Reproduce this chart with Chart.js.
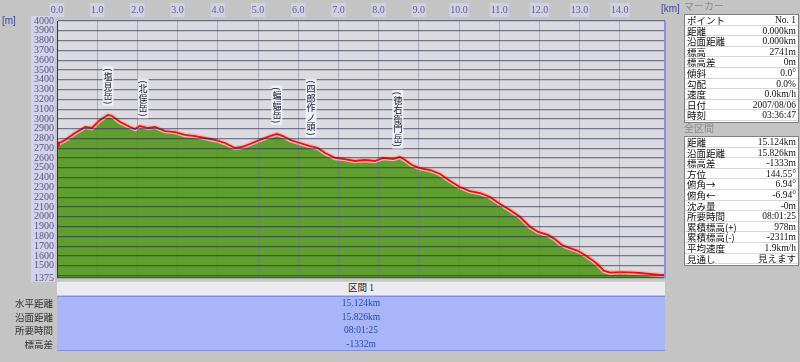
<!DOCTYPE html>
<html>
<head>
<meta charset="utf-8">
<script src="https://cdn.jsdelivr.net/npm/chart.js"></script>
<style>
  body { margin: 0; background: #c4c4c4; width: 800px; height: 362px; overflow: hidden; position: relative;
         font-family: "Liberation Serif", "Noto Sans CJK JP", serif; }
  .abs { position: absolute; }
  #ycol { left: 31px; top: 16px; width: 24px; height: 266px; background: #d2d2ea; }
  #chart { position: absolute; left: 0; top: 0; }
  .unit { color: #3c4aa0; font-size: 10px; font-family: "Liberation Sans", sans-serif; }
  .hdr { color: #8a8a8a; font-size: 10px; font-family: "Noto Sans CJK JP", sans-serif; line-height: 12px; }
  .box { background: #fff; border: 1px solid #808080; box-sizing: border-box; }
  .row { display: flex; justify-content: space-between; height: 10.6px; line-height: 10.6px; font-size: 9.5px;
         border-bottom: 1px solid #d8d8d8; box-sizing: border-box; padding: 0 2px 0 2px; color: #111; }
  .row span:first-child { font-family: "Noto Sans CJK JP", sans-serif; font-size: 9.5px; }
  #band1 { left: 57px; top: 281px; width: 608px; height: 14px; background: #ebebef; border-top: 1px solid #f0c0d0;
           box-sizing: border-box; text-align: center; font-size: 9.5px; line-height: 13px; color: #202020; }
  #band2 { left: 57px; top: 296px; width: 608px; height: 55px; background: #a8b6f8; border-top: 1px solid #8090e0;
           border-bottom: 1px solid #8090d8; box-sizing: border-box; }
  .val { position: absolute; left: 0; width: 608px; text-align: center; font-size: 9.5px; color: #2848b0; line-height: 12px; }
  .lab { position: absolute; left: 0; width: 53px; text-align: right; font-size: 9.5px; color: #303030; line-height: 12px;
         font-family: "Noto Sans CJK JP", sans-serif; }
</style>
</head>
<body>
<div id="ycol" class="abs"></div>
<canvas id="chart" width="800" height="362"></canvas>
<div class="abs unit" style="left:2px;top:15px;">[m]</div>
<div class="abs unit" style="left:661px;top:3px;">[km]</div>

<div id="band1" class="abs">区間 1</div>
<div id="band2" class="abs">
  <div class="val" style="top:0px;">15.124km</div>
  <div class="val" style="top:13.5px;">15.826km</div>
  <div class="val" style="top:27px;">08:01:25</div>
  <div class="val" style="top:40.5px;">-1332m</div>
</div>
<div class="lab" style="top:297px;">水平距離</div>
<div class="lab" style="top:310.5px;">沿面距離</div>
<div class="lab" style="top:324px;">所要時間</div>
<div class="lab" style="top:337.5px;">標高差</div>

<div class="abs hdr" style="left:684px;top:0px;">マーカー</div>
<div class="abs box" id="markerBox" style="left:684px;top:14px;width:115px;height:109px;"></div>
<div class="abs hdr" style="left:684px;top:122px;">全区間</div>
<div class="abs box" id="totalBox" style="left:684px;top:136px;width:115px;height:130px;"></div>

<script>
// 距離 [km] と標高 [m]
var distKm = [0, 0.2, 0.45, 0.7, 0.87, 1.07, 1.27, 1.37, 1.57, 1.82, 1.94, 2.06, 2.26, 2.44, 2.69, 2.94,
  3.18, 3.43, 3.68, 3.93, 4.18, 4.43, 4.6, 4.8, 5.05, 5.3, 5.47, 5.62, 5.8, 6.04, 6.29, 6.49, 6.67, 6.92,
  7.16, 7.41, 7.66, 7.91, 8.11, 8.36, 8.53, 8.66, 8.83, 9.03, 9.28, 9.53, 9.78, 10.02, 10.27, 10.52, 10.77,
  11.02, 11.27, 11.52, 11.77, 11.97, 12.21, 12.39, 12.56, 12.76, 12.94, 13.13, 13.31, 13.46, 13.6, 13.76,
  14.0, 14.25, 14.5, 14.75, 15.05, 15.124];
var elevM = [2741, 2784, 2856, 2917, 2907, 2989, 3040, 3030, 2968, 2917, 2897, 2927, 2907, 2917, 2876, 2866,
  2836, 2825, 2805, 2785, 2754, 2703, 2713, 2744, 2785, 2825, 2846, 2825, 2785, 2754, 2723, 2703, 2652, 2601,
  2590, 2570, 2580, 2570, 2601, 2590, 2611, 2580, 2529, 2498, 2478, 2437, 2366, 2304, 2263, 2243, 2202,
  2131, 2069, 1998, 1896, 1845, 1815, 1770, 1712, 1680, 1655, 1610, 1560, 1510, 1450, 1430,
  1436, 1432, 1426, 1416, 1405, 1408];

// 目盛り
var xTicks = [0, 1, 2, 3, 4, 5, 6, 7, 8, 9, 10, 11, 12, 13, 14];
var yTicks = [1375, 1400, 1500, 1600, 1700, 1800, 1900, 2000, 2100, 2200, 2300, 2400, 2500, 2600, 2700,
  2800, 2900, 3000, 3100, 3200, 3300, 3400, 3500, 3600, 3700, 3800, 3900, 4000];
var yHidden = [1400];

// 山名ラベル
var peakNames = ['︵塩見岳︶', '︵北俣岳︶', '︵蝙蝠岳︶', '︵四郎作ノ頭︶', '︵徳右衛門岳︶'];
var peakKm = [1.27, 2.14, 5.47, 6.32, 8.48];
var peakElev = [3040, 2915, 2846, 2720, 2605];

// 右パネル
var markerRows = [['ポイント', 'No. 1'], ['距離', '0.000km'], ['沿面距離', '0.000km'], ['標高', '2741m'],
  ['標高差', '0m'], ['傾斜', '0.0°'], ['勾配', '0.0%'], ['速度', '0.0km/h'], ['日付', '2007/08/06'], ['時刻', '03:36:47']];
var totalRows = [['距離', '15.124km'], ['沿面距離', '15.826km'], ['標高差', '-1333m'], ['方位', '144.55°'],
  ['俯角→', '6.94°'], ['俯角←', '-6.94°'], ['沈み量', '-0m'], ['所要時間', '08:01:25'], ['累積標高(+)', '978m'],
  ['累積標高(-)', '-2311m'], ['平均速度', '1.9km/h'], ['見通し', '見えます']];

function fillRows(id, rows) {
  var box = document.getElementById(id);
  rows.forEach(function (r) {
    var d = document.createElement('div');
    d.className = 'row';
    d.innerHTML = '<span>' + r[0] + '</span><span>' + r[1] + '</span>';
    box.appendChild(d);
  });
}
fillRows('markerBox', markerRows);
fillRows('totalBox', totalRows);

var pts = distKm.map(function (d, i) { return { x: d, y: elevM[i] }; });

var plotDeco = {
  id: 'plotDeco',
  beforeDraw: function (chart) {
    var a = chart.chartArea, c = chart.ctx;
    c.save();
    c.fillStyle = '#dadadf';
    c.fillRect(a.left, a.top, a.right - a.left, a.bottom - a.top);
    c.restore();
  },
  afterDraw: function (chart) {
    var a = chart.chartArea, c = chart.ctx;
    var xs = chart.scales.x, ys = chart.scales.y;
    c.save();
    c.strokeStyle = '#8c8ce8';
    c.lineWidth = 2;
    c.beginPath();
    c.moveTo(a.right, a.top); c.lineTo(a.right, a.bottom);
    c.stroke();
    // 縦書きの山名
    c.font = '9px "Noto Sans CJK JP"';
    c.textAlign = 'center';
    c.textBaseline = 'middle';
    peakNames.forEach(function (name, i) {
      var chars = Array.from(name);
      var steps = chars.map(function (ch) { return (ch === '︵' || ch === '︶') ? 4.5 : 9.5; });
      var h = steps.reduce(function (s, v) { return s + v; }, 0);
      var cx = xs.getPixelForValue(peakKm[i]);
      var bottom = ys.getPixelForValue(peakElev[i]) - 10;
      var top = bottom - h;
      c.fillStyle = 'rgba(240,240,248,0.92)';
      c.fillRect(cx - 5.5, top - 1, 11, h + 2);
      c.fillStyle = '#202030';
      var y = top;
      chars.forEach(function (ch, j) {
        var yy = y + steps[j] / 2;
        if (ch === '︵' || ch === '︶') {
          c.save();
          c.translate(cx, yy);
          c.rotate(Math.PI / 2);
          c.fillText(ch === '︵' ? '(' : ')', 0, 0);
          c.restore();
        } else {
          c.fillText(ch, cx, yy);
        }
        y += steps[j];
      });
    });
    c.restore();
  }
};

var ctx = document.getElementById('chart').getContext('2d');
new Chart(ctx, {
  type: 'line',
  data: {
    datasets: [
      {
        data: pts,
        borderColor: '#e41414',
        borderWidth: 1.8,
        pointRadius: function (c) { return c.dataIndex === 0 ? 3 : 0; },
        pointBackgroundColor: '#e41414',
        pointBorderWidth: 0,
        fill: false,
        tension: 0,
        order: 1
      },
      {
        data: pts,
        borderColor: '#f4b4b0',
        borderWidth: 4.5,
        pointRadius: 0,
        fill: 'start',
        backgroundColor: '#609e30',
        tension: 0,
        order: 2
      }
    ]
  },
  options: {
    responsive: false,
    animation: false,
    layout: { padding: { left: 0, top: 0, right: 135, bottom: 84 } },
    plugins: { legend: { display: false }, tooltip: { enabled: false } },
    scales: {
      x: {
        type: 'linear',
        position: 'top',
        min: 0,
        max: 15.124,
        afterBuildTicks: function (s) { s.ticks = xTicks.map(function (v) { return { value: v }; }); },
        afterFit: function (s) { s.height = 21; },
        ticks: {
          callback: function (v) { return Number(v).toFixed(1); },
          font: { family: 'Liberation Serif', size: 10 },
          color: '#62628a',
          padding: 5,
          maxRotation: 0,
          showLabelBackdrop: true,
          backdropColor: '#d0d0e2',
          backdropPadding: 1
        },
        grid: { color: 'rgba(110,110,150,0.45)', lineWidth: 1, drawTicks: false, z: 1 },
        border: { display: false }
      },
      y: {
        type: 'linear',
        min: 1375,
        max: 4000,
        afterBuildTicks: function (s) { s.ticks = yTicks.map(function (v) { return { value: v }; }); },
        afterFit: function (s) { s.width = 57; },
        ticks: {
          callback: function (v) { return yHidden.indexOf(v) >= 0 ? '' : String(v); },
          font: { family: 'Liberation Serif', size: 10 },
          color: '#56567e',
          padding: 3,
          autoSkip: false
        },
        grid: { color: 'rgba(35,35,75,0.55)', lineWidth: 1.2, drawTicks: false, z: 1 },
        border: { display: true, color: '#303050', width: 1, z: 2 }
      }
    }
  },
  plugins: [plotDeco]
});
</script>
</body>
</html>
